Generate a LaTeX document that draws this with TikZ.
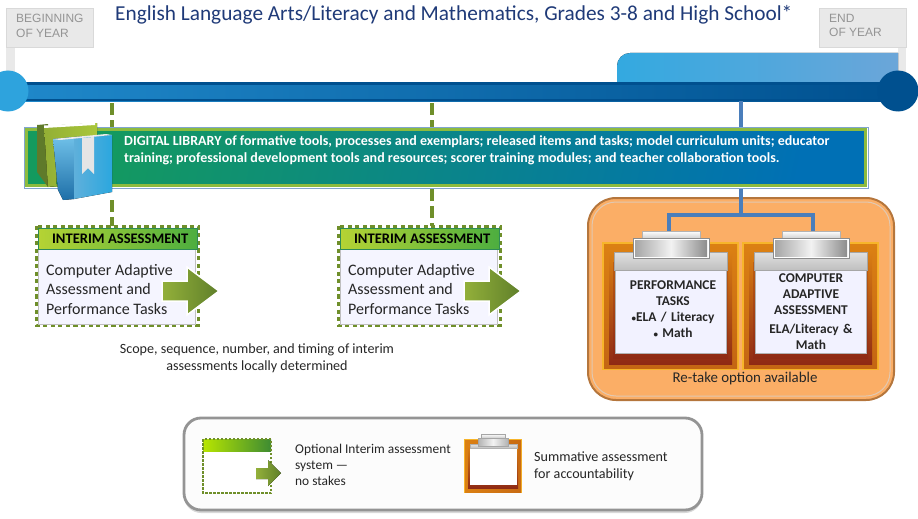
\documentclass[tikz,border=0pt]{standalone}
\usepackage{fontspec}
\setmainfont{Carlito}
\newfontfamily\greyfont{Liberation Sans}
\usetikzlibrary{shadows}
\definecolor{navy}{HTML}{1F3A78}
\definecolor{barD}{HTML}{00508F}
\definecolor{barL}{HTML}{1F88CA}
\definecolor{conn}{HTML}{4A7EBB}
\definecolor{olive}{HTML}{6F8F2A}
\definecolor{flagc}{HTML}{E9E9E9}
\definecolor{orfill}{HTML}{FBAE66}
\definecolor{orline}{HTML}{B5763C}
\definecolor{tabL}{HTML}{33A9E0}
\definecolor{tabR}{HTML}{6BA6D9}
\definecolor{dotL}{HTML}{2EA3DD}
\definecolor{libL}{HTML}{149A5E}
\definecolor{libM}{HTML}{068C88}
\definecolor{libR}{HTML}{0070B5}
\definecolor{libline}{HTML}{8DBB3F}
\definecolor{headL}{HTML}{B5D334}
\definecolor{headR}{HTML}{4DAE3F}
\definecolor{headB}{HTML}{2E8B57}
\definecolor{arrL}{HTML}{93B03A}
\definecolor{arrR}{HTML}{5F7F2A}
\definecolor{frameY}{HTML}{F7B52A}
\definecolor{frameO}{HTML}{DB8013}
\definecolor{frameD}{HTML}{8F2A14}
\definecolor{bookB}{HTML}{6FC0E8}
\definecolor{bookC}{HTML}{2BA7DE}
\definecolor{bookS}{HTML}{1E6FA8}
\definecolor{bookG}{HTML}{A9C63A}
\definecolor{bookO}{HTML}{5F7A2A}
\tikzset{
  flagbox/.style={draw=black!15,line width=.8pt,fill=flagc},
  flagtxt/.style={font=\greyfont\fontsize{12}{14.5}\selectfont,text=black!42,align=left,inner sep=0pt,anchor=north west},
  libtxt/.style={font=\bfseries\fontsize{14}{17}\selectfont,text=white,align=left,inner sep=0pt,anchor=north west},
  dashlink/.style={draw=olive,line width=3.2pt,dash pattern=on 12pt off 5pt},
  solidlink/.style={draw=conn,line width=3.5pt},
  intbox/.style={draw=olive,line width=3pt,dash pattern=on 4.2pt off 3.4pt,fill=white},
  inthead/.style={draw=headB,line width=1.2pt,left color=headL,right color=headR,minimum width=159pt,minimum height=21pt,inner sep=0pt,font=\bfseries\fontsize{14.6}{16}\selectfont,text=black},
  intbody/.style={fill=white!96!blue,draw=black!25,line width=.8pt},
  inttxt/.style={font=\fontsize{16}{19.5}\selectfont,align=left,inner sep=0pt,anchor=north west,text=black!85},
  smalltxt/.style={font=\fontsize{14.1}{17}\selectfont,align=center,inner sep=0pt,text=black!85},
  clip txt/.style={font=\bfseries\fontsize{13.4}{16}\selectfont,align=center,inner sep=0pt,text=black!85},
  legtxt/.style={font=\fontsize{13.4}{16}\selectfont,align=left,inner sep=0pt,anchor=north west,text=black!85},
}
\newcommand{\greenarrow}[2]{% x y
  \draw[white,line width=1.5pt,left color=arrL,right color=arrR]
    (#1,#2-10)--(#1+25,#2-10)--(#1+25,#2-24)--(#1+57,#2)--(#1+25,#2+24)--(#1+25,#2+10)--(#1,#2+10)--cycle;}
\newcommand{\clipboard}[2]{% x y = top-left of outer frame
  \fill[frameY] (#1,#2) rectangle ++(137,128);
  \fill[top color=frameO,bottom color=frameO!70!frameD] (#1+2,#2+2) rectangle ++(133,124);
  \fill[top color=frameO,bottom color=frameD] (#1+7,#2+8) rectangle ++(123,114);
  \fill[top color=frameO!60!frameD,bottom color=frameD] (#1+11,#2+20) rectangle ++(115,96);
  \fill[white!95!blue] (#1+13,#2+28) rectangle ++(111,83);
  \draw[black!30,line width=.8pt] (#1+13,#2+28) rectangle ++(111,83);
  \draw[black!35,line width=.8pt,top color=black!12,bottom color=black!25] (#1+12,#2+10) rectangle ++(113,18);
  \draw[black!30,line width=.8pt,top color=white,bottom color=black!20] (#1+40,#2-11) rectangle ++(58,8);
  \draw[black!45,line width=1pt,fill=white] (#1+31,#2-4) rectangle ++(76,20);
  \fill[left color=black!35,right color=black!45,middle color=black!5] (#1+33,#2-2) rectangle ++(72,16);
}
\begin{document}
\begin{tikzpicture}[x=1pt,y=-1pt]
\useasboundingbox (0,0) rectangle (918,519);
% flags
\fill[flagc] (6,45) rectangle (15,75);
\draw[flagbox] (6,8) rectangle (93,47);
\node[flagtxt] (begintxt) at (16,14) {BEGINNING\\OF YEAR};
\fill[flagc] (898,45) rectangle (906,75);
\draw[flagbox] (819,8) rectangle (906,47);
\node[flagtxt] (endtxt) at (829,14) {END\\OF YEAR};
% title
\node[inner sep=0pt,anchor=base west,text=navy,font=\fontsize{21.3}{24}\selectfont] (title) at (115,21) {English Language Arts/Literacy and Mathematics, Grades 3-8 and High School*};
% light tab
\fill[left color=tabL,right color=tabR] (898,53) [rounded corners=13pt] -- (617,53) [sharp corners] -- (617,90) -- (898,90) -- cycle;
% timeline
\fill[left color=barL,right color=barD] (10,82) rectangle (900,101);
\fill[barD] (10,82) rectangle (900,85);
\fill[barD] (10,98.5) rectangle (900,101);
\node[circle,fill=dotL,minimum size=41pt,inner sep=0pt] (startdot) at (8,91) {};
\node[circle,fill=barD,minimum size=41pt,inner sep=0pt] (enddot) at (898,91) {};
% library
\node[draw=conn!70,line width=1pt,minimum width=844pt,minimum height=61pt,inner sep=0pt,anchor=north west] (lib) at (24,127) {};
\path[draw=libline,line width=2.2pt,left color=libL,middle color=libM,right color=libR,shading angle=78]
 (26.5,129.5) rectangle (865.5,185.5);
% connectors
\coordinate (tl1) at (112,103);
\coordinate (tl2) at (432,103);
\coordinate (tl3) at (741,101);
\path[dashlink] (tl1) -- (112,127);
\path[dashlink] (tl2) -- (432,127);
\path[solidlink] (tl3) -- (741,127);
\path[dashlink] (112,200) -- (112,226);
\path[dashlink] (432,189) -- (432,226);
% interim 1
\draw[intbox] (36,226) rectangle (198,325.5);
\draw[intbody] (38,248) rectangle (195,324.5);
\node[inthead,anchor=north west] (h1) at (37.5,227.5) {\hspace{5pt}INTERIM ASSESSMENT};
\node[inttxt] (t1) at (46,264) {Computer Adaptive\\Assessment and\\Performance Tasks};
\greenarrow{162}{291}
% interim 2
\draw[intbox] (338,226) rectangle (500,325.5);
\draw[intbody] (340,248) rectangle (497,324.5);
\node[inthead,anchor=north west] (h2) at (339.5,227.5) {\hspace{5pt}INTERIM ASSESSMENT};
\node[inttxt] (t2) at (348,264) {Computer Adaptive\\Assessment and\\Performance Tasks};
\greenarrow{464}{291}
% note
\node[smalltxt] (note) at (257,358) {Scope, sequence, number, and timing of interim\\assessments locally determined};
% orange panel
\draw[draw=orline,line width=2pt,fill=orfill,rounded corners=28pt] (588,198) rectangle (894,400);
\draw[draw=white!60!orline,line width=1pt,rounded corners=24pt] (592,202) rectangle (890,396);
\coordinate (junction) at (741,215);
\coordinate (pctop) at (669,232);
\coordinate (cctop) at (813,232);
\path[solidlink] (lib.south -| tl3) -- (junction);
\path[solidlink] (pctop) -- (669,215) -- (813,215) -- (cctop);
% clipboards
\clipboard{602}{242}
\clipboard{742}{242}
\node[clip txt,text width=108pt,anchor=north] (p1) at (673,281) {PERFORMANCE\\TASKS\\{\fontsize{9}{16}\selectfont•}ELA / Literacy\\{\fontsize{9}{16}\selectfont•} Math};
\node[clip txt,text width=108pt,anchor=north] (p2) at (811,274) {COMPUTER\\ADAPTIVE\\ASSESSMENT};
\node[clip txt,text width=108pt,anchor=north] (p3) at (811,324) {ELA/Literacy \&\\Math};
\node[smalltxt,font=\fontsize{14.9}{17}\selectfont] (retake) at (745,379) {Re-take option available};
% legend
\draw[draw=black!42,line width=2.8pt,fill=white!99!black,rounded corners=17pt,drop shadow={shadow xshift=0pt,shadow yshift=-3pt,fill=black!30}] (184,418) rectangle (702,510);
\fill[white] (203,439) rectangle (271,493);
\fill[left color=yellow!80!green!90!black,right color=headR!80!black] (203,439) rectangle (271,451);
\draw[olive,line width=1.5pt,dash pattern=on 2.5pt off 1.5pt] (203,439) rectangle (271,493);
\fill[left color=arrL,right color=arrR] (256,468)--(268,468)--(268,460)--(281,473)--(268,486)--(268,479)--(256,479)--cycle;
\node[legtxt] (lg1) at (295,444) {Optional Interim assessment\\system —\\no stakes};
\fill[frameY] (464,439) rectangle (522,493);
\fill[left color=frameO,right color=frameO!75!frameD] (465,440) rectangle (521,492);
\fill[top color=frameO,bottom color=frameD] (468,446) rectangle (518,488);
\fill[white] (470,448) rectangle (517,485);
\draw[black!30,top color=black!10,bottom color=black!25] (470,444) rectangle (517,448);
\draw[black!35,top color=white,bottom color=black!25] (481,434) rectangle (505,439);
\draw[black!35,left color=black!30,right color=black!30,middle color=black!5] (478,438) rectangle (508,446);
\node[legtxt,font=\fontsize{14.1}{16.5}\selectfont] (lg2) at (534,452) {Summative assessment\\for accountability};
% books
\fill[bookO] (37,125) -- (48,124) -- (48,187) -- (37,172) -- cycle;
\fill[left color=bookG!70!bookO,right color=bookG] (44,126) -- (97,123) -- (97,140) -- (60,140) -- (56,186) -- (48,187) -- cycle;
\fill[white] (44,125.5)--(95,122.5)--(95,125)--(44,128)--cycle;
\fill[top color=bookB,bottom color=bookS] (53,139)--(74,137)--(74,199)--(63,200)--(58,190)--cycle;
\fill[left color=bookB!80!bookS,right color=bookC] (74,137)--(112,135)--(112,192)--(74,199)--cycle;
\fill[white!92!black] (53,139)--(106,134)--(112,135)--(60,140)--cycle;
\fill[black!10] (82,138)--(94,137)--(94,174)--(88,168)--(82,174)--cycle;
% library text
\node[libtxt] (libtext) at (124,135.5) {DIGITAL LIBRARY of formative tools, processes and exemplars; released items and tasks; model curriculum units; educator\\training; professional development tools and resources; scorer training modules; and teacher collaboration tools.};
\end{tikzpicture}
\end{document}
